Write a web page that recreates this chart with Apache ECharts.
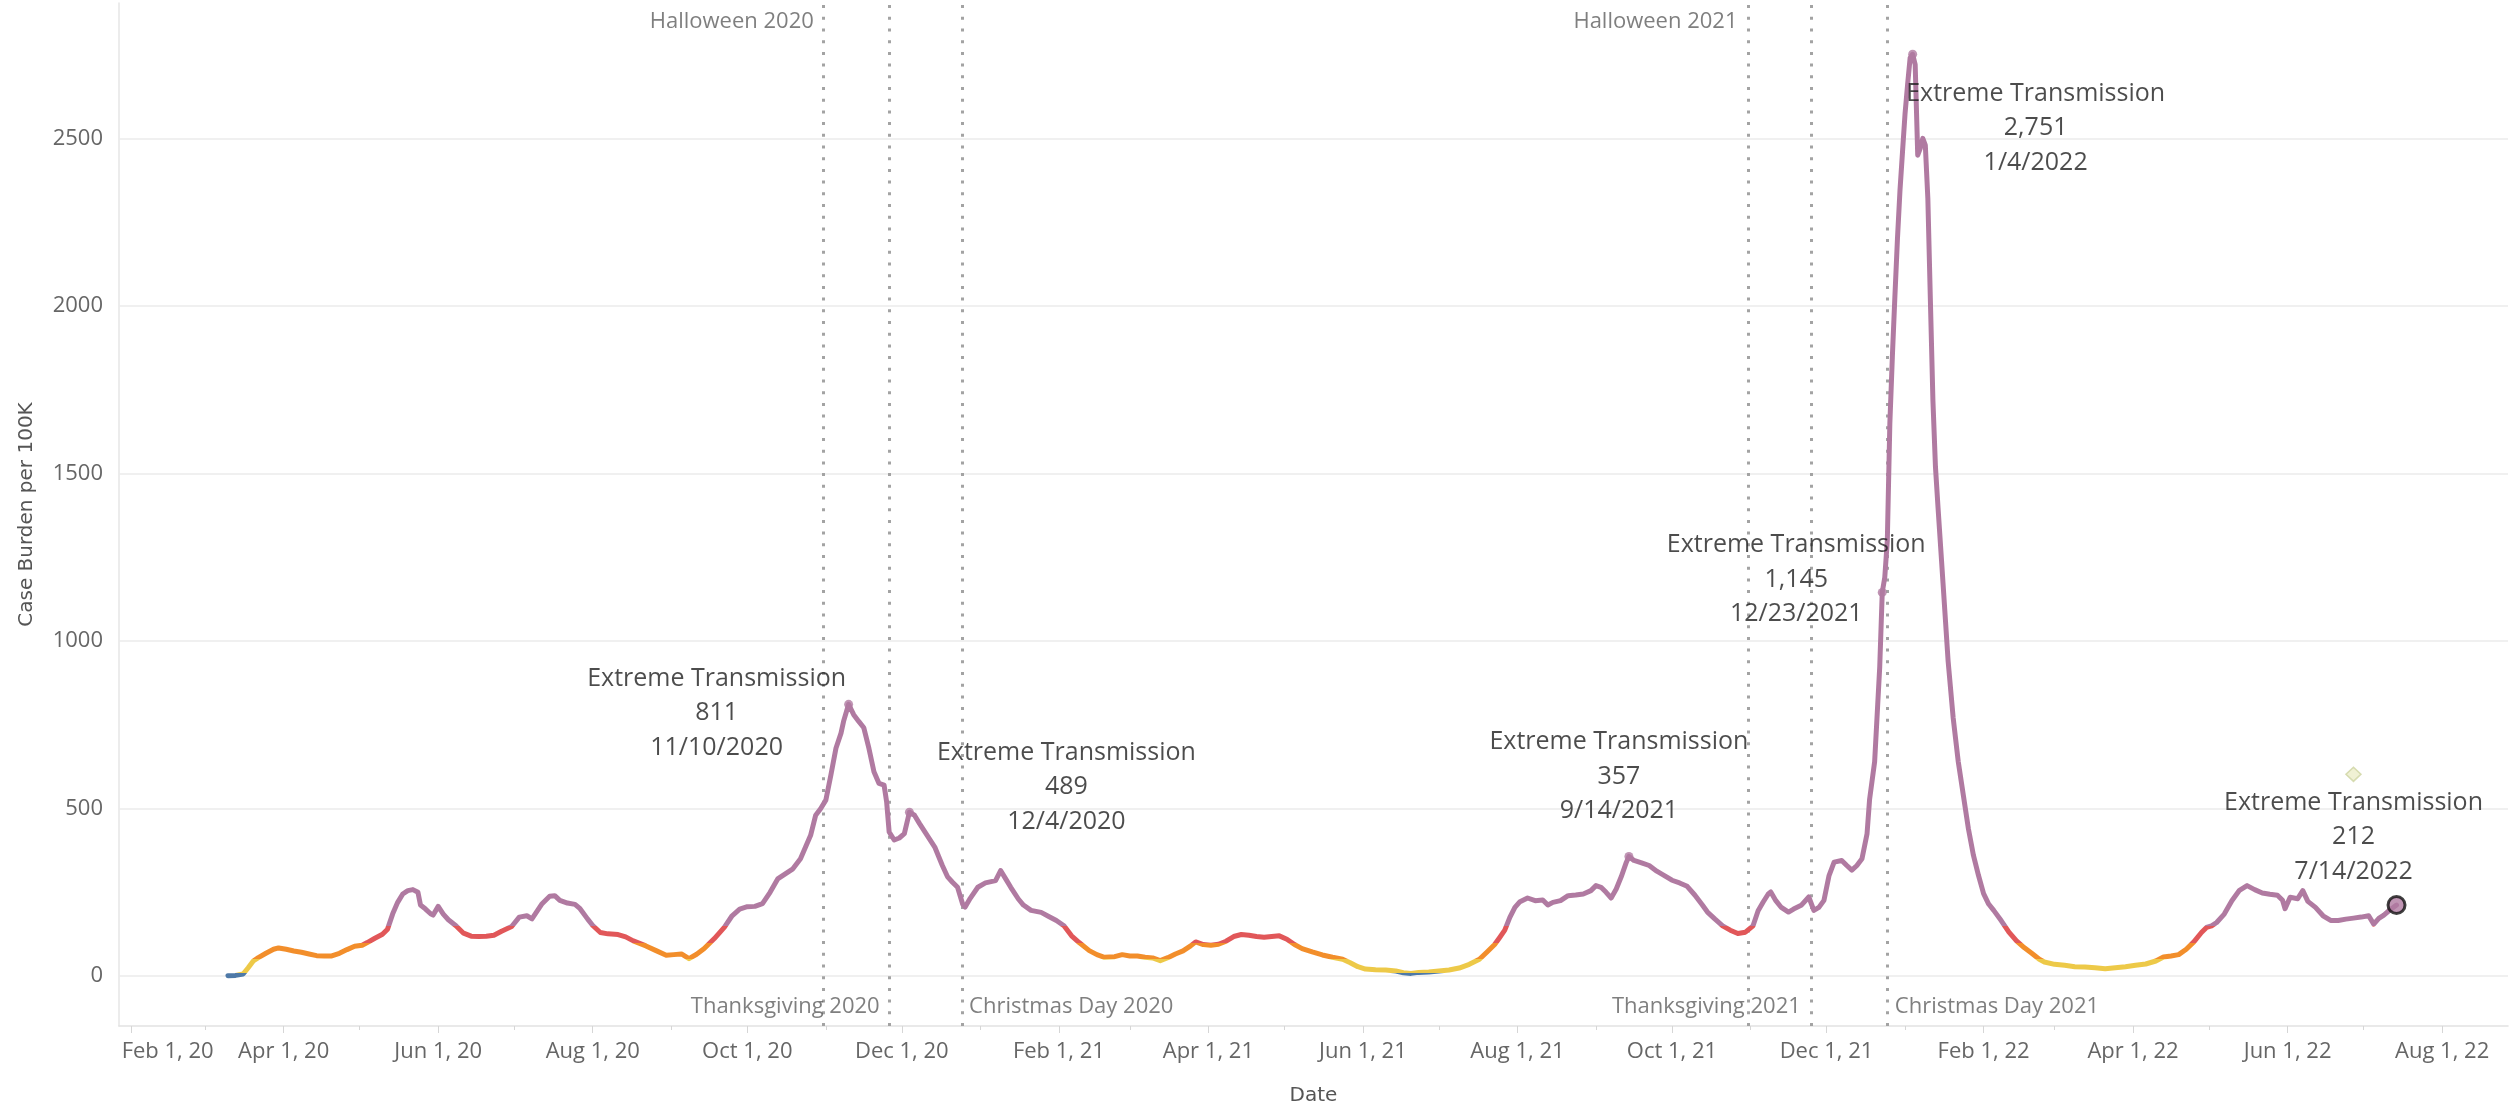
<!DOCTYPE html>
<html>
<head>
<meta charset="utf-8">
<script src="https://cdn.jsdelivr.net/npm/echarts@6/dist/echarts.min.js"></script>
<style>
html,body{margin:0;padding:0;background:#fff;}
#main{width:2511px;height:1112px;}
</style>
</head>
<body>
<div id="main"></div>
<script>
// ---------------- DATA ----------------
const dates = [
'2020-03-10','2020-03-13','2020-03-16','2020-03-18','2020-03-20','2020-03-22','2020-03-25','2020-03-28','2020-03-30',
'2020-04-02','2020-04-05','2020-04-08','2020-04-11','2020-04-14','2020-04-17','2020-04-20','2020-04-23','2020-04-26','2020-04-29',
'2020-05-02','2020-05-04','2020-05-07','2020-05-10','2020-05-12','2020-05-14','2020-05-16','2020-05-18','2020-05-20','2020-05-22','2020-05-24','2020-05-25','2020-05-27','2020-05-29','2020-05-30',
'2020-06-01','2020-06-03','2020-06-05','2020-06-08','2020-06-11','2020-06-14','2020-06-17','2020-06-20','2020-06-23','2020-06-26','2020-06-30',
'2020-07-03','2020-07-06','2020-07-08','2020-07-12','2020-07-15','2020-07-17','2020-07-19','2020-07-22','2020-07-25','2020-07-27','2020-07-30',
'2020-08-01','2020-08-04','2020-08-07','2020-08-11','2020-08-14','2020-08-17','2020-08-19','2020-08-22','2020-08-26','2020-08-30',
'2020-09-02','2020-09-05','2020-09-08','2020-09-11','2020-09-14','2020-09-18','2020-09-22','2020-09-25','2020-09-28',
'2020-10-01','2020-10-04','2020-10-07','2020-10-10','2020-10-13','2020-10-16','2020-10-19','2020-10-22','2020-10-24','2020-10-26','2020-10-28','2020-10-30',
'2020-11-01','2020-11-03','2020-11-05','2020-11-07','2020-11-08','2020-11-10','2020-11-12','2020-11-14','2020-11-16','2020-11-18','2020-11-20','2020-11-22','2020-11-24','2020-11-25','2020-11-26','2020-11-28','2020-11-30',
'2020-12-02','2020-12-04','2020-12-06','2020-12-08','2020-12-11','2020-12-14','2020-12-17','2020-12-19','2020-12-21','2020-12-23','2020-12-25','2020-12-26','2020-12-28','2020-12-31',
'2021-01-03','2021-01-07','2021-01-09','2021-01-11','2021-01-13','2021-01-16','2021-01-18','2021-01-21','2021-01-25','2021-01-28','2021-01-31',
'2021-02-03','2021-02-06','2021-02-09','2021-02-13','2021-02-16','2021-02-19','2021-02-23','2021-02-26',
'2021-03-01','2021-03-04','2021-03-07','2021-03-10','2021-03-13','2021-03-16','2021-03-19','2021-03-22','2021-03-25','2021-03-27','2021-03-30',
'2021-04-02','2021-04-05','2021-04-08','2021-04-11','2021-04-14','2021-04-17','2021-04-20','2021-04-23','2021-04-26','2021-04-29',
'2021-05-02','2021-05-05','2021-05-08','2021-05-12','2021-05-16','2021-05-20','2021-05-24','2021-05-27','2021-05-30',
'2021-06-02','2021-06-06','2021-06-10','2021-06-14','2021-06-17','2021-06-20','2021-06-23','2021-06-27',
'2021-07-01','2021-07-05','2021-07-09','2021-07-13','2021-07-17','2021-07-20','2021-07-23','2021-07-25','2021-07-27','2021-07-29','2021-07-31',
'2021-08-02','2021-08-05','2021-08-08','2021-08-11','2021-08-13','2021-08-15','2021-08-18','2021-08-21','2021-08-24','2021-08-27','2021-08-30',
'2021-09-01','2021-09-03','2021-09-05','2021-09-07','2021-09-09','2021-09-11','2021-09-13','2021-09-14','2021-09-16','2021-09-19','2021-09-22','2021-09-25','2021-09-28',
'2021-10-01','2021-10-04','2021-10-07','2021-10-10','2021-10-13','2021-10-15','2021-10-18','2021-10-21','2021-10-24','2021-10-27','2021-10-30',
'2021-11-02','2021-11-04','2021-11-06','2021-11-08','2021-11-09','2021-11-11','2021-11-13','2021-11-16','2021-11-18','2021-11-21','2021-11-24','2021-11-26','2021-11-28','2021-11-30',
'2021-12-02','2021-12-04','2021-12-07','2021-12-09','2021-12-11','2021-12-13','2021-12-15','2021-12-17','2021-12-18','2021-12-20','2021-12-22','2021-12-23','2021-12-24','2021-12-25','2021-12-26','2021-12-27','2021-12-28','2021-12-29','2021-12-30','2021-12-31',
'2022-01-01','2022-01-02','2022-01-03','2022-01-04','2022-01-05','2022-01-06','2022-01-07','2022-01-08','2022-01-09','2022-01-10','2022-01-11','2022-01-12','2022-01-13','2022-01-14','2022-01-16','2022-01-18','2022-01-20','2022-01-22','2022-01-24','2022-01-26','2022-01-28','2022-01-30',
'2022-02-01','2022-02-03','2022-02-05','2022-02-08','2022-02-11','2022-02-14','2022-02-17','2022-02-20','2022-02-23','2022-02-25',
'2022-03-01','2022-03-05','2022-03-09','2022-03-13','2022-03-17','2022-03-21','2022-03-25','2022-03-29',
'2022-04-02','2022-04-06','2022-04-10','2022-04-13','2022-04-16','2022-04-19','2022-04-22','2022-04-25','2022-04-28','2022-04-30',
'2022-05-02','2022-05-04','2022-05-07','2022-05-10','2022-05-13','2022-05-16','2022-05-19','2022-05-22','2022-05-25','2022-05-28','2022-05-30','2022-05-31',
'2022-06-02','2022-06-05','2022-06-07','2022-06-09','2022-06-12','2022-06-15','2022-06-18','2022-06-21','2022-06-24','2022-06-27','2022-06-30',
'2022-07-03','2022-07-05','2022-07-07','2022-07-09','2022-07-11','2022-07-14'
];
const caseBurden = [
1,2,6,25,45,55,68,80,84,
80,75,71,66,61,60,60,68,79,89,
92,100,113,125,140,185,220,245,255,258,250,212,200,186,182,
208,185,168,150,128,119,118,119,122,134,148,
176,180,171,216,238,240,226,218,214,201,170,
151,130,126,124,117,105,99,90,76,62,
64,66,52,65,82,112,146,180,200,
207,208,216,250,290,305,320,350,385,420,480,500,
525,600,680,725,760,811,780,760,741,680,610,575,570,520,430,406,412,
425,489,480,455,420,385,330,297,280,265,215,206,232,265,
278,285,315,290,265,230,212,196,190,178,166,
150,120,100,76,64,56,58,64,
60,60,56,54,46,55,66,75,90,102,94,
92,95,104,118,124,122,118,116,118,120,
110,94,82,72,63,56,50,40,28,
21,19,18,15,10,8,11,12,
15,18,24,35,50,72,94,115,137,175,205,
222,233,225,227,212,220,225,240,242,245,255,
270,265,250,233,260,297,340,357,345,338,330,313,300,
286,278,268,242,212,191,170,150,137,127,131,
150,195,221,245,251,225,206,191,200,211,236,196,205,226,
300,340,345,330,316,330,350,425,527,640,922,1145,1190,1300,1650,1850,2030,2200,2345,2460,
2574,2660,2740,2751,2720,2450,2470,2500,2480,2320,2016,1718,1520,1400,1171,940,770,640,540,440,360,300,
246,215,196,165,131,105,85,68,50,42,
35,32,28,27,25,22,25,28,
32,36,45,57,60,64,80,102,130,145,
150,160,185,225,256,270,258,248,244,241,226,201,
235,231,255,223,205,180,166,166,170,173,176,
180,155,172,182,195,212
];

const levelThresholds = [10, 50, 100, 150];
const levelColors = ['#4e79a7', '#edc948', '#f28e2b', '#e15759', '#b07aa1'];

const refLineNames = ['Halloween 2020','Thanksgiving 2020','Christmas Day 2020','Halloween 2021','Thanksgiving 2021','Christmas Day 2021'];
const refLineDates = ['2020-10-31','2020-11-26','2020-12-25','2021-10-31','2021-11-25','2021-12-25'];

const annotationDates = ['2020-11-10','2020-12-04','2021-09-14','2021-12-23','2022-01-04','2022-07-14'];
const annotationLevel = 'Extreme Transmission';

const diamondDate = ['2022-06-27'];
const diamondValue = [602];

const xTickDates = ['2020-02-01','2020-04-01','2020-06-01','2020-08-01','2020-10-01','2020-12-01','2021-02-01','2021-04-01','2021-06-01','2021-08-01','2021-10-01','2021-12-01','2022-02-01','2022-04-01','2022-06-01','2022-08-01'];
const xTickLabels = ['Feb 1, 20','Apr 1, 20','Jun 1, 20','Aug 1, 20','Oct 1, 20','Dec 1, 20','Feb 1, 21','Apr 1, 21','Jun 1, 21','Aug 1, 21','Oct 1, 21','Dec 1, 21','Feb 1, 22','Apr 1, 22','Jun 1, 22','Aug 1, 22'];
const xMinorTickDates = ['2020-03-01','2020-05-01','2020-07-01','2020-09-01','2020-11-01','2021-01-01','2021-03-01','2021-05-01','2021-07-01','2021-09-01','2021-11-01','2022-01-01','2022-03-01','2022-05-01','2022-07-01'];
const yTickValues = [0, 500, 1000, 1500, 2000, 2500];

// ---------------- LAYOUT / STYLE ----------------
function ts(s){ const p = s.split('-').map(Number); return Date.UTC(p[0], p[1]-1, p[2]); }
const X_MIN = ts('2020-01-27'), X_MAX = ts('2022-08-27');
const Y_MIN = -149, Y_MAX = 2904;
const UI_FONT = "'Open Sans', 'Noto Sans', sans-serif";
const TITLE_FONT = "'DejaVu Sans', Verdana, sans-serif";
const TOP_LABEL_Y = 2847, BOTTOM_LABEL_Y = -92;
const refLabelLayout = [
  {side:'left',  y:TOP_LABEL_Y,    gap:9},
  {side:'left',  y:BOTTOM_LABEL_Y, gap:9},
  {side:'right', y:BOTTOM_LABEL_Y, gap:6},
  {side:'left',  y:TOP_LABEL_Y,    gap:10},
  {side:'left',  y:BOTTOM_LABEL_Y, gap:10},
  {side:'right', y:BOTTOM_LABEL_Y, gap:7}
];
const annotationOffsets = [[-132, 9], [157, -25], [-10, -80], [-86, -13], [123, 74], [-43, -68]];

const xMajorTs = xTickDates.map(ts);
const xMinorTs = xMinorTickDates.map(ts);
const lineData = dates.map((d, i) => [ts(d), caseBurden[i]]);

function fmtDate(s){ const p = s.split('-').map(Number); return p[1] + '/' + p[2] + '/' + p[0]; }

const annData = annotationDates.map((d, i) => {
  const v = caseBurden[dates.indexOf(d)];
  const last = i === annotationDates.length - 1;
  return {
    value: [ts(d), v],
    text: annotationLevel + '\n' + v.toLocaleString('en-US') + '\n' + fmtDate(d),
    symbolSize: last ? 17 : 9,
    itemStyle: last ? {color: levelColors[4], borderColor: '#111', borderWidth: 3} : {color: levelColors[4]},
    label: {offset: annotationOffsets[i]}
  };
});

const pieces = [];
for (let i = 0; i < levelColors.length; i++) {
  const p = {color: levelColors[i]};
  if (i > 0) p.gte = levelThresholds[i-1];
  if (i < levelThresholds.length) p.lt = levelThresholds[i];
  pieces.push(p);
}

const chart = echarts.init(document.getElementById('main'), null, {renderer: 'canvas'});
chart.setOption({
  backgroundColor: '#ffffff',
  animation: false,
  textStyle: {fontFamily: UI_FONT},
  grid: {left: 119, right: 3, top: 3, bottom: 86, containLabel: false, outerBoundsMode: 'none'},
  visualMap: {type: 'piecewise', show: false, dimension: 1, seriesIndex: 0, pieces: pieces},
  xAxis: [{
    type: 'value', min: X_MIN, max: X_MAX,
    axisLine: {show: true, onZero: false, lineStyle: {color: '#e2e2e2', width: 1.5}},
    axisTick: {show: true, customValues: xMajorTs, length: 7, lineStyle: {color: '#d6d6d6', width: 1}},
    axisLabel: {
      show: true, customValues: xMajorTs, fontSize: 22, color: '#666', fontFamily: UI_FONT, margin: 15,
      formatter: function (v) {
        const i = xMajorTs.indexOf(v);
        const t = i >= 0 ? xTickLabels[i] : '';
        return i === 0 ? '{first|' + t + '}' : t;
      },
      rich: {first: {padding: [0, 0, 0, 72], fontSize: 22, color: '#666', fontFamily: UI_FONT}}
    },
    splitLine: {show: false},
    name: 'Date', nameLocation: 'middle', nameGap: 60, nameMoveOverlap: false,
    nameTextStyle: {fontFamily: TITLE_FONT, fontSize: 20, color: '#555'}
  }, {
    type: 'value', min: X_MIN, max: X_MAX, position: 'bottom',
    axisLine: {show: false, onZero: false},
    axisTick: {show: true, customValues: xMinorTs, length: 4, lineStyle: {color: '#d6d6d6', width: 1}},
    axisLabel: {show: false}, splitLine: {show: false}
  }],
  yAxis: {
    type: 'value', min: Y_MIN, max: Y_MAX,
    axisLine: {show: true, onZero: false, lineStyle: {color: '#e6e6e6', width: 1.5}},
    axisTick: {show: false},
    axisLabel: {customValues: yTickValues, formatter: v => String(v), fontSize: 22, color: '#666', fontFamily: UI_FONT, margin: 16},
    splitLine: {show: false},
    name: 'Case Burden per 100K', nameLocation: 'middle', nameGap: 82, nameRotate: 90, nameMoveOverlap: false,
    nameTextStyle: {fontFamily: TITLE_FONT, fontSize: 20, color: '#555'}
  },
  series: [
    {
      type: 'line', name: 'Case Burden', data: lineData, showSymbol: false, symbol: 'none',
      lineStyle: {width: 5, cap: 'round', join: 'round'}, z: 3, silent: true
    },
    {
      type: 'scatter', name: 'Forecast', symbol: 'diamond', symbolSize: [15, 14], z: 2, silent: true,
      data: diamondDate.map((d, i) => [ts(d), diamondValue[i]]),
      itemStyle: {color: '#eceec9', borderColor: '#cdd3a0', borderWidth: 1.5},
      markLine: {
        silent: true, symbol: ['none', 'none'], z: 1, animation: false,
        label: {show: false},
        lineStyle: {color: '#ebebeb', width: 1.5, type: 'solid'},
        data: yTickValues.map(v => ({yAxis: v}))
      }
    },
    {
      type: 'scatter', name: 'Reference lines', symbolSize: 1, z: 2, silent: true,
      itemStyle: {color: 'rgba(0,0,0,0)'},
      data: refLineDates.map((d, i) => ({
        value: [ts(d), refLabelLayout[i].y],
        label: {position: refLabelLayout[i].side, distance: refLabelLayout[i].gap}
      })),
      label: {show: true, formatter: p => refLineNames[p.dataIndex], fontSize: 22, color: '#5f5f5f', fontFamily: UI_FONT},
      markLine: {
        silent: true, symbol: ['none', 'none'], z: 2, animation: false,
        label: {show: false},
        lineStyle: {color: '#a3a3a3', width: 3, type: [3, 8.7]},
        data: refLineDates.map(d => ({xAxis: ts(d)}))
      }
    },
    {
      type: 'scatter', name: 'Annotations', z: 6, silent: true,
      data: annData,
      label: {
        show: true, position: 'inside', formatter: p => p.data.text,
        fontSize: 25, lineHeight: 34.5, color: '#1f1f1f', fontFamily: UI_FONT,
        align: 'center', verticalAlign: 'middle'
      }
    }
  ]
});
</script>
</body>
</html>
